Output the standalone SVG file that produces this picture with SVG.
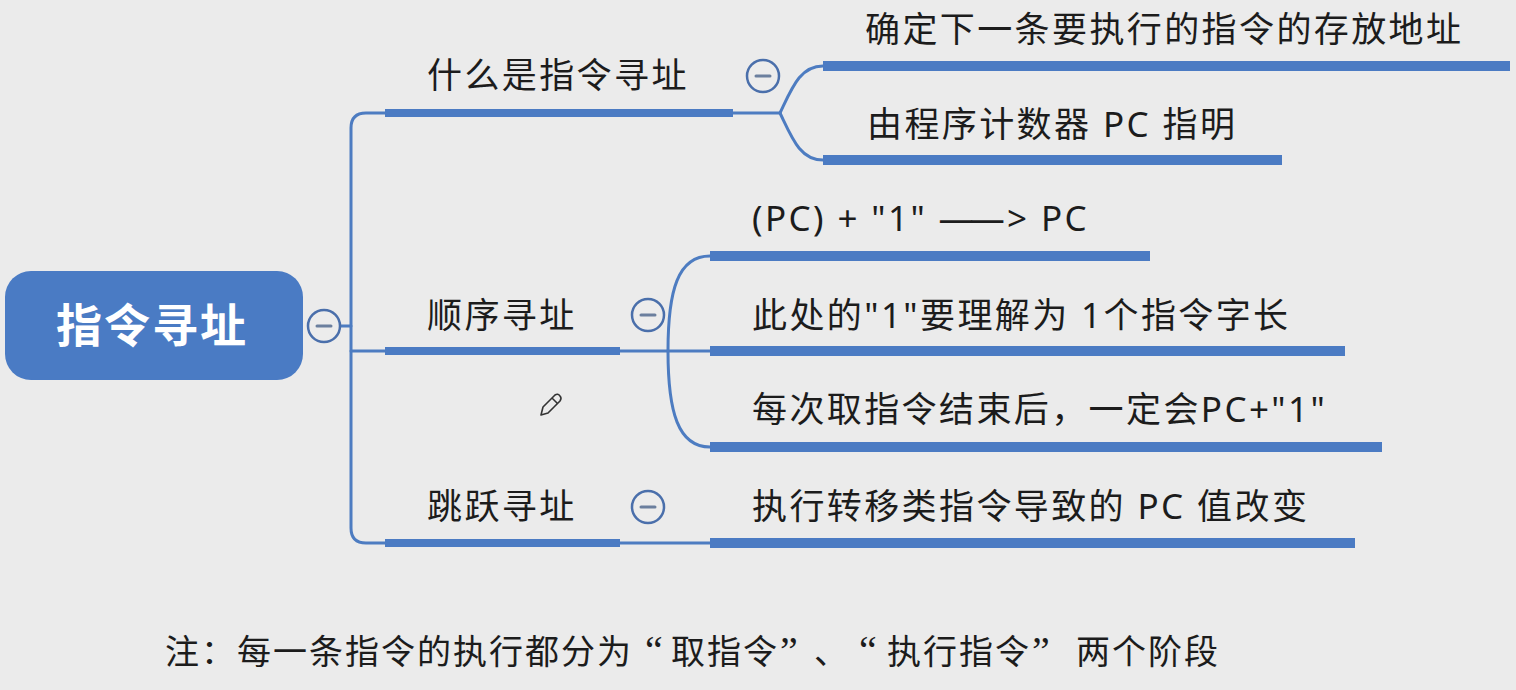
<svg xmlns="http://www.w3.org/2000/svg" width="1516" height="690" viewBox="0 0 1516 690">
<style>
.bar{fill:#4b7bc3}
.ln{fill:none;stroke:#4d7cc1;stroke-width:3;stroke-linecap:round}
.cc{fill:#ececec;stroke:#4a6fab;stroke-width:2.5}
.mn{stroke:#6b7f9e;stroke-width:3;stroke-linecap:round}
.t{font-family:"Noto Sans","Noto Sans CJK SC",sans-serif;font-size:35px;fill:#1c1c1c;letter-spacing:2.4px}
.ft{font-family:"Liberation Serif","Noto Sans CJK SC",serif;font-size:34px;fill:#1c1c1c;letter-spacing:2px}
.q{font-size:40px}
</style>
<rect width="1516" height="690" fill="#ebebeb"/>
<g id="connectors">
<path class="ln" d="M341 326 H351"/>
<path class="ln" d="M385 113 H366 Q351 113 351 128 V528 Q351 543 366 543 H385"/>
<path class="ln" d="M351 351 H385"/>
<path class="ln" d="M733 113 H780"/>
<path class="ln" d="M780 113 C792 88 800 66 823 66"/>
<path class="ln" d="M780 113 C792 138 800 160 823 160"/>
<path class="ln" d="M620 351 H710"/>
<path class="ln" d="M668 351 C668 290 678 256 710 256"/>
<path class="ln" d="M668 351 C668 412 678 447 710 447"/>
<path class="ln" d="M620 543 H710"/>
</g>
<g id="root">
<rect x="5" y="271" width="298" height="109" rx="26" fill="#4a7bc4"/>
<text x="152" y="342" text-anchor="middle" font-family="'Noto Sans CJK SC',sans-serif" font-size="46" font-weight="bold" fill="#ffffff" letter-spacing="2">指令寻址</text>
<circle class="cc" cx="324" cy="326" r="16"/>
<line class="mn" x1="317" y1="326" x2="331" y2="326"/>
</g>
<g id="n1">
<rect class="bar" x="385" y="109" width="348" height="8"/>
<text class="t" x="427" y="88">什么是指令寻址</text>
<circle class="cc" cx="763" cy="76" r="16"/>
<line class="mn" x1="756" y1="76" x2="770" y2="76"/>
</g>
<g id="n1a">
<rect class="bar" x="823" y="61" width="687" height="10"/>
<text class="t" x="865" y="42">确定下一条要执行的指令的存放地址</text>
</g>
<g id="n1b">
<rect class="bar" x="823" y="155" width="459" height="10"/>
<text class="t" x="867" y="137">由程序计数器 PC 指明</text>
</g>
<g id="n2">
<rect class="bar" x="385" y="347" width="235" height="8"/>
<text class="t" x="427" y="328">顺序寻址</text>
<circle class="cc" cx="648" cy="315" r="16"/>
<line class="mn" x1="641" y1="315" x2="655" y2="315"/>
</g>
<g id="n2a">
<rect class="bar" x="710" y="251" width="440" height="10"/>
<text class="t" x="752" y="231">(PC) + "1" <tspan letter-spacing="-4">—</tspan>—&gt; PC</text>
</g>
<g id="n2b">
<rect class="bar" x="710" y="346" width="635" height="10"/>
<text class="t" x="752" y="328">此处的"1"要理解为 1个指令字长</text>
</g>
<g id="n2c">
<rect class="bar" x="710" y="442" width="672" height="10"/>
<text class="t" x="752" y="422">每次取指令结束后，一定会PC+"1"</text>
</g>
<g id="n3">
<rect class="bar" x="385" y="539" width="235" height="8"/>
<text class="t" x="427" y="519">跳跃寻址</text>
<circle class="cc" cx="648" cy="507" r="16"/>
<line class="mn" x1="641" y1="507" x2="655" y2="507"/>
</g>
<g id="n3a">
<rect class="bar" x="710" y="538" width="645" height="10"/>
<text class="t" x="752" y="519">执行转移类指令导致的 PC 值改变</text>
</g>
<g id="pencil">
<path d="M541 415 L543 407 L555 395 Q558 393 560 396 Q562 398 560 401 L548 413 Z M552 398 L557 403" fill="none" stroke="#333" stroke-width="1.6" stroke-linejoin="round"/>
</g>
<g id="note">
<text class="ft" y="664"><tspan x="165">注：每一条指令的执行都分为</tspan><tspan class="q" x="645">“</tspan><tspan x="671">取指令</tspan><tspan class="q" x="780">”</tspan><tspan x="814">、</tspan><tspan class="q" x="859">“</tspan><tspan x="887">执行指令</tspan><tspan class="q" x="1032">”</tspan><tspan x="1076">两个阶段</tspan></text>
</g>
</svg>
